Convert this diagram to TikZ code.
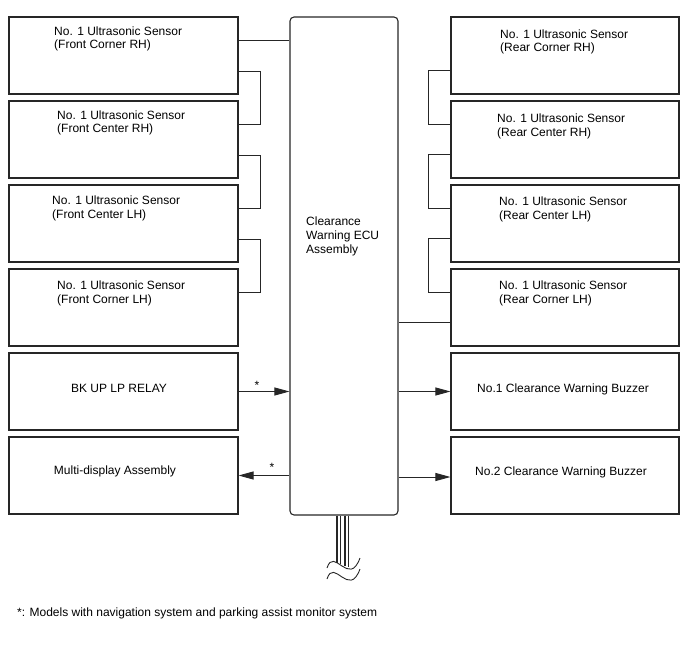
\documentclass[tikz,border=0pt]{standalone}
\usepackage{fontspec}
\setmainfont{Liberation Sans}
\usetikzlibrary{arrows.meta}
\begin{document}
\begin{tikzpicture}[x=1pt,y=-1pt,
  box/.style={draw=black!85, line width=1.1pt, rectangle, inner sep=0},
  lbox/.style={box, minimum width=229pt, minimum height=77pt},
  rbox/.style={box, minimum width=228pt, minimum height=77pt},
  wire/.style={draw=black!85, line width=0.9pt},
  txt/.style={inner sep=0, anchor=base west, align=left, font=\fontsize{12}{13.8}\selectfont},
  ctxt/.style={inner sep=0, font=\fontsize{12}{13.8}\selectfont},
  arr/.style={wire, -{Triangle[length=15pt,width=8pt]}}
]
\useasboundingbox (0,0) rectangle (688,658);

% left boxes
\node[lbox] (L1) at (123.5,55.5) {};
\node[lbox] (L2) at (123.5,139.5) {};
\node[lbox] (L3) at (123.5,223.5) {};
\node[lbox] (L4) at (123.5,307.5) {};
\node[lbox] (L5) at (123.5,391.5) {};
\node[lbox] (L6) at (123.5,475.5) {};
% right boxes
\node[rbox] (R1) at (565,55.5) {};
\node[rbox] (R2) at (565,139.5) {};
\node[rbox] (R3) at (565,223.5) {};
\node[rbox] (R4) at (565,307.5) {};
\node[rbox] (R5) at (565,391.5) {};
\node[rbox] (R6) at (565,475.5) {};
% ECU
\node[box, rounded corners=4pt, minimum width=108pt, minimum height=498pt] (ECU) at (344,266) {};

% texts (base anchor = last line)
\node[txt] (t1) at (54,49) {No. 1 Ultrasonic Sensor\\(Front Corner RH)};
\node[txt] (t2) at (57,133) {No. 1 Ultrasonic Sensor\\(Front Center RH)};
\node[txt] (t3) at (52,218) {No. 1 Ultrasonic Sensor\\(Front Center LH)};
\node[txt] (t4) at (57,303) {No. 1 Ultrasonic Sensor\\(Front Corner LH)};
\node[ctxt] (t5) at (119,388) {BK UP LP RELAY};
\node[ctxt] (t6) at (115,471) {Multi-display Assembly};
\node[txt] (u1) at (500,52) {No. 1 Ultrasonic Sensor\\(Rear Corner RH)};
\node[txt] (u2) at (497,136) {No. 1 Ultrasonic Sensor\\(Rear Center RH)};
\node[txt] (u3) at (499,219) {No. 1 Ultrasonic Sensor\\(Rear Center LH)};
\node[txt] (u4) at (499,303) {No. 1 Ultrasonic Sensor\\(Rear Corner LH)};
\node[ctxt] (u5) at (563,389) {No.1 Clearance Warning Buzzer};
\node[ctxt] (u6) at (561,472) {No.2 Clearance Warning Buzzer};
\node[txt] (et) at (306,253) {Clearance\\Warning ECU\\Assembly};
\node[ctxt, anchor=base] (s1) at (257,389) {*};
\node[ctxt, anchor=base] (s2) at (272,471) {*};
\node[txt] (fn) at (17,616) {*: Models with navigation system and parking assist monitor system};

% left chain
\draw[wire] ([yshift=-24pt]L1.north east) coordinate (a1) -- (a1 -| ECU.west);
\draw[wire] ([yshift=-55pt]L1.north east) -- ++(22,0) |- ([yshift=-24pt]L2.north east);
\draw[wire] ([yshift=-55pt]L2.north east) -- ++(22,0) |- ([yshift=-24pt]L3.north east);
\draw[wire] ([yshift=-55pt]L3.north east) -- ++(22,0) |- ([yshift=-24pt]L4.north east);
% right chain
\draw[wire] ([yshift=-54pt]R1.north west) -- ++(-22,0) |- ([yshift=-24pt]R2.north west);
\draw[wire] ([yshift=-54pt]R2.north west) -- ++(-22,0) |- ([yshift=-24pt]R3.north west);
\draw[wire] ([yshift=-54pt]R3.north west) -- ++(-22,0) |- ([yshift=-24pt]R4.north west);
\draw[wire] ([yshift=-54pt]R4.north west) coordinate (b4) -- (b4 -| ECU.east);

% arrows
\draw[arr] (L5.east) -- (L5.east -| ECU.west);
\draw[arr] (L6.east -| ECU.west) -- (L6.east);
\draw[arr] (R5.west -| ECU.east) -- (R5.west);
\draw[arr] ([yshift=-1.5pt]R6.west -| ECU.east) -- ([yshift=-1.5pt]R6.west);

% cable with break
\draw[wire, line width=1.3pt] ([xshift=-7pt]ECU.south) -- ++(0,47);
\draw[wire, line width=0.8pt] ([xshift=-4pt]ECU.south) -- ++(0,48);
\draw[wire, line width=1.3pt] ([xshift=1pt]ECU.south) -- ++(0,50);
\draw[wire, line width=0.8pt] ([xshift=4pt]ECU.south) -- ++(0,51);
\draw[wire, line width=0.9pt] (327,568) .. controls (334,546) and (349,588) .. (360,558);
\draw[wire, line width=0.9pt] (327,579) .. controls (334,557) and (349,599) .. (360,569);
\end{tikzpicture}
\end{document}
